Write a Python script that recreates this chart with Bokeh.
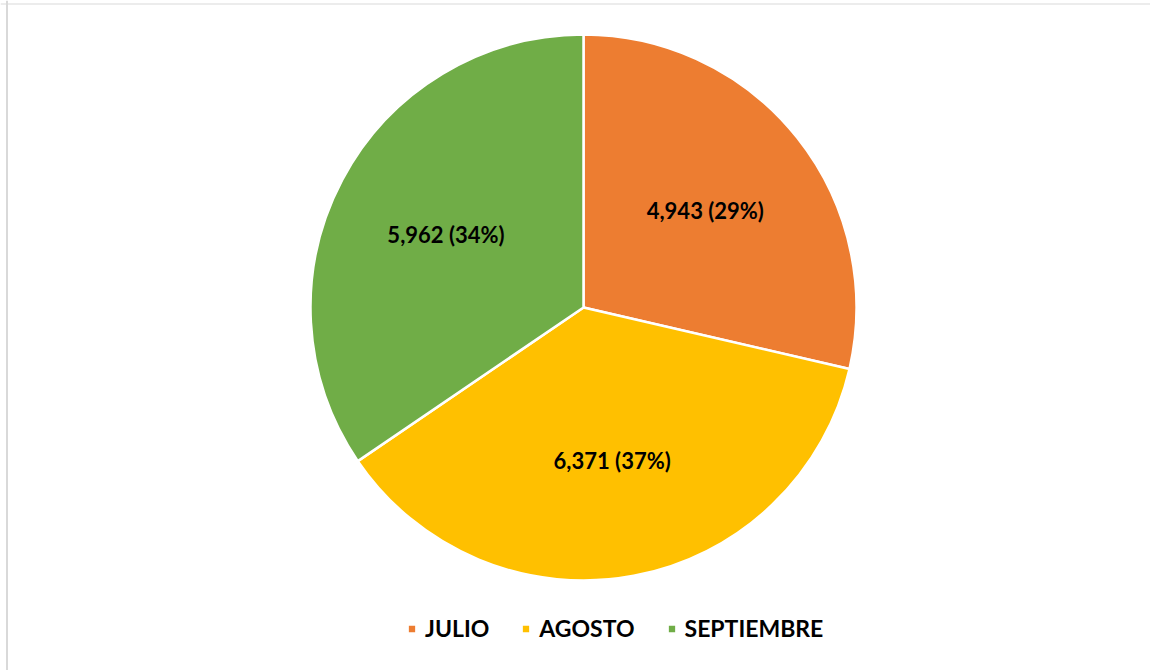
import math
from bokeh.plotting import figure
from bokeh.models import Range1d, Span, Legend, LegendItem, ColumnDataSource
from bokeh.core.properties import value
from bokeh.embed import file_html
from bokeh.resources import INLINE

months = ["JULIO", "AGOSTO", "SEPTIEMBRE"]
counts = [4943, 6371, 5962]
pct_labels = ["29%", "37%", "34%"]
colors = ["#ED7D31", "#FFC000", "#70AD47"]

W, H = 1150, 670
cx, cy, r = 583, H - 307, 273
label_frac = 0.57

total = sum(counts)
starts, ends, lx, ly, texts = [], [], [], [], []
acc = 0.0
for c, pl in zip(counts, pct_labels):
    a0 = math.pi / 2 - 2 * math.pi * acc / total
    acc += c
    a1 = math.pi / 2 - 2 * math.pi * acc / total
    starts.append(a0)
    ends.append(a1)
    mid = (a0 + a1) / 2
    lx.append(cx + label_frac * r * math.cos(mid))
    ly.append(cy + label_frac * r * math.sin(mid))
    texts.append(f"{c:,} ({pl})")

p = figure(width=W, height=H, output_backend="svg", toolbar_location=None,
           x_range=Range1d(0, W), y_range=Range1d(0, H),
           min_border=0, min_border_left=0, min_border_right=0,
           min_border_top=0, min_border_bottom=0)
p.axis.visible = False
p.grid.visible = False
p.outline_line_color = None
p.background_fill_color = "white"
p.border_fill_color = "white"

p.add_layout(Span(location=6.5, dimension="height", line_color="#d9d9d9", line_width=2))
p.add_layout(Span(location=H - 3.5, dimension="width", line_color="#d9d9d9", line_width=1))

items = []
for i, m in enumerate(months):
    src = ColumnDataSource(dict(x=[cx], y=[cy], s=[starts[i]], e=[ends[i]]))
    rend = p.wedge(x="x", y="y", radius=r, start_angle="s", end_angle="e",
                   direction="clock", fill_color=colors[i], line_color="white",
                   line_width=2.5, source=src)
    items.append(LegendItem(label=m, renderers=[rend]))

p.text(x=lx, y=ly, text=texts, text_font=value("Lato"), text_font_style="bold",
       text_font_size="22px", text_color="black", text_align="center",
       text_baseline="middle")

legend = Legend(items=items, orientation="horizontal", location=(406, 28),
                label_text_font="Lato", label_text_font_style="bold",
                label_text_font_size="23px", label_text_color="black",
                glyph_width=11, glyph_height=11, label_standoff=8, spacing=31,
                padding=0, margin=0, border_line_color=None,
                background_fill_alpha=0)
p.add_layout(legend)

open("out.html", "w").write(file_html(p, INLINE))
